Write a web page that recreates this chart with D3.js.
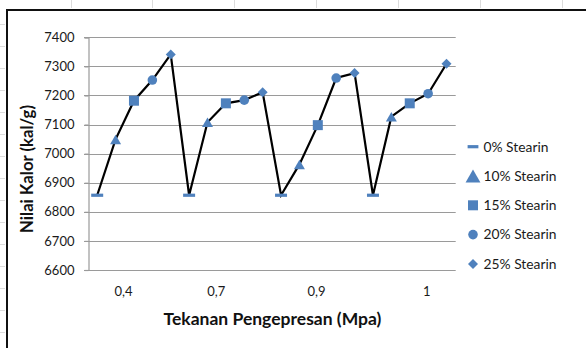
<!DOCTYPE html>
<html>
<head>
<meta charset="utf-8">
<script src="https://cdn.jsdelivr.net/npm/d3@7"></script>
<style>
  html, body { margin: 0; padding: 0; background: #fff; }
  svg { display: block; }
  text { font-family: Lato, "Open Sans", sans-serif; }
</style>
</head>
<body>
<svg id="chart" width="586" height="348"></svg>
<script>
// Stearin content of each briquette batch (one marker per batch)
const stearinLevels = ["0% Stearin", "10% Stearin", "15% Stearin", "20% Stearin", "25% Stearin"];

// Calorific value (kal/g) per stearin level, one list per pressing pressure
const kalorAt04 = [6857, 7049, 7182, 7253, 7341];
const kalorAt07 = [6857, 7108, 7173, 7184, 7211];
const kalorAt09 = [6857, 6963, 7098, 7260, 7277];
const kalorAt10 = [6857, 7127, 7173, 7206, 7309];

// Pressure labels and the point-sequence slot each one is written under
const pressureLabels = ["0,4", "0,7", "0,9", "1"];
const pressureSlots = [1.4, 6.45, 11.9, 17.9];

const yTicks = [6600, 6700, 6800, 6900, 7000, 7100, 7200, 7300, 7400];

const groups = [kalorAt04, kalorAt07, kalorAt09, kalorAt10];
const points = [];
groups.forEach((vals, g) => {
  vals.forEach((v, s) => points.push({ idx: g * vals.length + s, series: s, value: v }));
});

const svg = d3.select("#chart");
const blue = "#4f81bd";
const gridColor = "#9a9a9a";

// font size at which a text element spans the wanted width
function sizeForWidth(node, width) {
  const len = node.getComputedTextLength();
  const size = parseFloat(node.getAttribute("font-size"));
  return len > 0 ? size * width / len : size;
}
function fitWidth(node, width) {
  node.setAttribute("font-size", sizeForWidth(node, width).toFixed(2));
}

// faint worksheet cell borders around the chart object
const sheet = svg.append("g").attr("stroke", "#dcdcdc").attr("stroke-width", 1);
d3.range(70.5, 586, 81.9).forEach(x => {
  sheet.append("line").attr("x1", Math.round(x) + 0.5).attr("x2", Math.round(x) + 0.5).attr("y1", 0).attr("y2", 8);
});
d3.range(23.5, 348, 22.06).forEach(y => {
  sheet.append("line").attr("x1", 0).attr("x2", 5).attr("y1", Math.round(y) + 0.5).attr("y2", Math.round(y) + 0.5);
});

// chart object frame
svg.append("rect")
  .attr("x", 7).attr("y", 10)
  .attr("width", 600).attr("height", 360)
  .attr("fill", "#fff")
  .attr("stroke", "#111").attr("stroke-width", 2);

const plot = { left: 88, right: 455.7, top: 37.3, bottom: 270 };

const x = d3.scaleLinear().domain([-0.5, points.length - 0.5]).range([plot.left, plot.right]);
const y = d3.scaleLinear().domain([6600, 7400]).range([plot.bottom, plot.top]);

// horizontal gridlines
svg.append("g")
  .selectAll("line")
  .data(yTicks)
  .join("line")
  .attr("x1", plot.left - 4).attr("x2", plot.right)
  .attr("y1", d => Math.round(y(d)) + 0.5).attr("y2", d => Math.round(y(d)) + 0.5)
  .attr("stroke", gridColor).attr("stroke-width", 1.2);

// y axis
const yAxis = svg.append("g")
  .attr("transform", `translate(${Math.round(plot.left) + 0.5},0)`)
  .call(d3.axisLeft(y).tickValues(yTicks).tickFormat(d3.format("d")).tickSize(4).tickPadding(10));
yAxis.select(".domain").attr("stroke", gridColor).attr("stroke-width", 1.2);
yAxis.selectAll(".tick line").attr("stroke", gridColor).attr("stroke-width", 1.2);
yAxis.selectAll(".tick text")
  .attr("font-family", "Lato, sans-serif").attr("font-size", 13).attr("fill", "#1a1a1a");

// x axis labels (no tick marks)
const xAxis = svg.append("g")
  .attr("transform", `translate(0,${plot.bottom})`)
  .call(d3.axisBottom(x).tickValues(pressureSlots).tickFormat((d, i) => pressureLabels[i]).tickSize(0).tickPadding(17));
xAxis.select(".domain").remove();
xAxis.selectAll(".tick text")
  .attr("font-family", "Lato, sans-serif").attr("font-size", 13).attr("fill", "#1a1a1a");

// connecting line through every batch in sequence
const line = d3.line().x(d => x(d.idx)).y(d => y(d.value));
svg.append("path")
  .datum(points)
  .attr("d", line)
  .attr("fill", "none")
  .attr("stroke", "#000")
  .attr("stroke-width", 2.2)
  .attr("stroke-linejoin", "miter");

// marker shapes per stearin level
function markerPath(series, scale) {
  const k = scale || 1;
  switch (series) {
    case 0: { const w = 12 * k, h = 3.2; return `M${-w / 2},${-h / 2}h${w}v${h}h${-w}Z`; }
    case 1: { const w = 11 * k, h = 9.5 * k; return `M0,${-h / 2}L${w / 2},${h / 2}L${-w / 2},${h / 2}Z`; }
    case 2: { const s = 10 * k; return `M${-s / 2},${-s / 2}h${s}v${s}h${-s}Z`; }
    case 3: return d3.symbol(d3.symbolCircle, Math.PI * Math.pow(4.8 * k, 2))();
    default: { const r = 5 * k; return `M0,${-r}L${r},0L0,${r}L${-r},0Z`; }
  }
}

svg.append("g")
  .selectAll("path")
  .data(points)
  .join("path")
  .attr("transform", d => `translate(${x(d.idx)},${y(d.value)})`)
  .attr("d", d => markerPath(d.series))
  .attr("fill", blue);

// legend
const legend = svg.append("g").attr("transform", "translate(473,146.7)");
const legendRows = legend.selectAll("g")
  .data(stearinLevels)
  .join("g")
  .attr("transform", (d, i) => `translate(0,${i * 29.3})`);
legendRows.append("path")
  .attr("d", (d, i) => {
    if (i === 0) return markerPath(0, 0.9);
    if (i === 1) return markerPath(1, 1.35);
    return markerPath(i, 1);
  })
  .attr("fill", blue);
const legendText = legendRows.append("text")
  .attr("x", 10.5)
  .attr("dy", "0.35em")
  .attr("font-family", "Lato, sans-serif")
  .attr("font-size", 14)
  .attr("fill", "#1a1a1a")
  .text(d => d);
// one shared size, taken from a two-digit row
const legendSize = sizeForWidth(legendText.nodes()[1], 73);
legendText.attr("font-size", legendSize.toFixed(2));

// axis titles
svg.append("text")
  .attr("x", 272.5)
  .attr("y", 318.5)
  .attr("dy", "0.35em")
  .attr("text-anchor", "middle")
  .attr("font-family", "Lato, sans-serif")
  .attr("font-weight", "bold")
  .attr("font-size", 15)
  .attr("fill", "#111")
  .text("Tekanan Pengepresan (Mpa)")
  .each(function () { fitWidth(this, 218); });

svg.append("text")
  .attr("transform", "translate(27.5,169) rotate(-90)")
  .attr("dy", "0.35em")
  .attr("text-anchor", "middle")
  .attr("font-family", "Lato, sans-serif")
  .attr("font-weight", "bold")
  .attr("font-size", 14)
  .attr("fill", "#111")
  .text("Nilai Kalor (kal/g)")
  .each(function () { fitWidth(this, 128); });
</script>
</body>
</html>
